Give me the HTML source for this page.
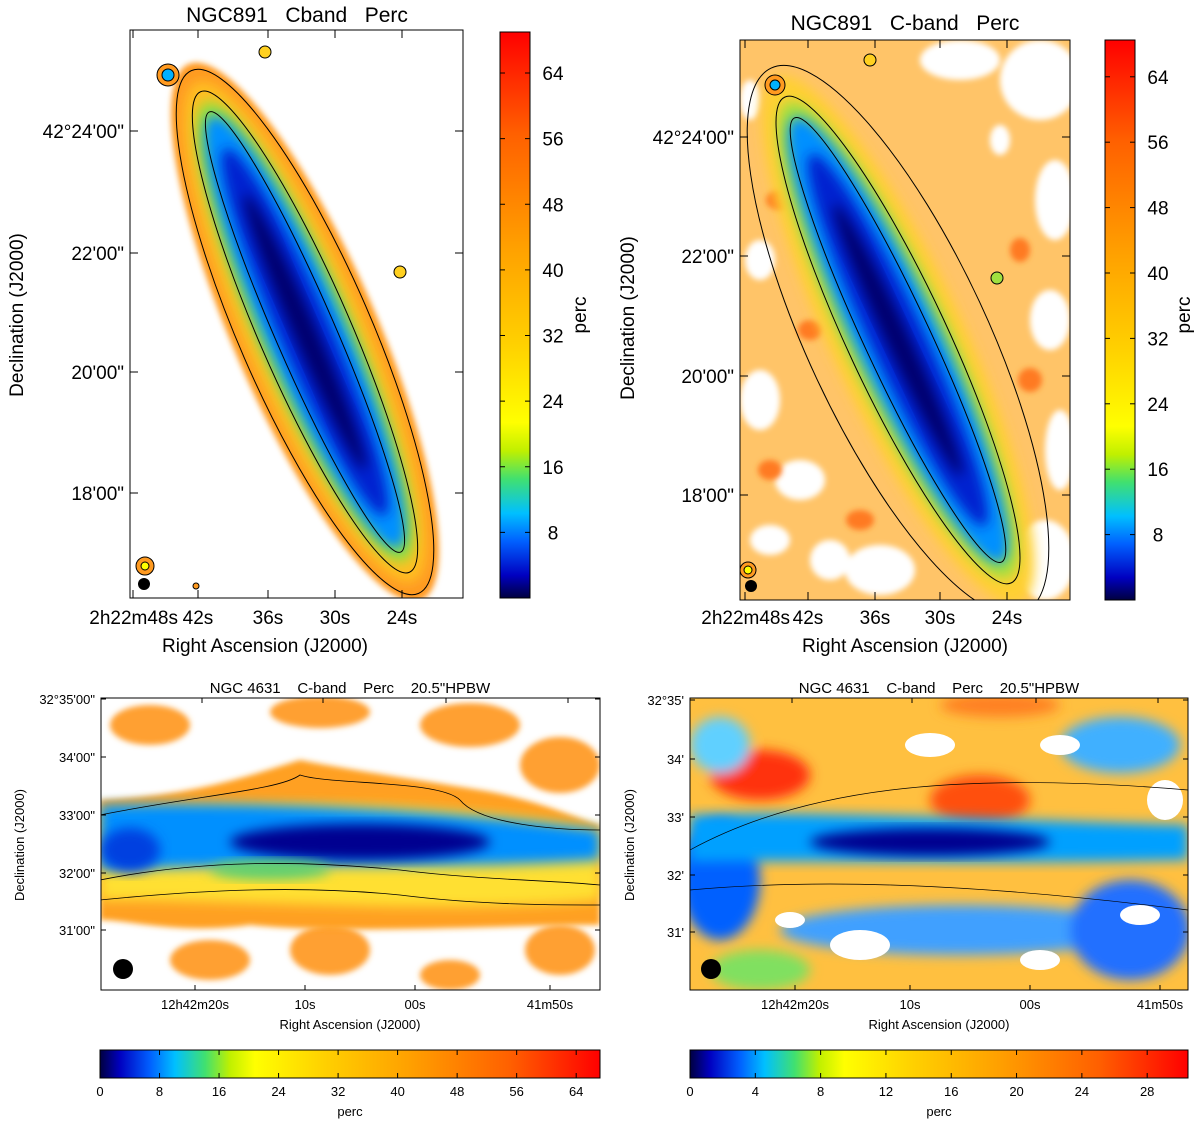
<!DOCTYPE html>
<html><head><meta charset="utf-8"><style>
html,body{margin:0;padding:0;background:#fff;}
svg{display:block;font-family:"Liberation Sans",sans-serif;}
text{white-space:pre;}
</style></head><body>
<svg id="fig" width="1200" height="1128" viewBox="0 0 1200 1128" xmlns="http://www.w3.org/2000/svg">
<defs>
<linearGradient id="jetV" x1="0" y1="1" x2="0" y2="0">
<stop offset="0" stop-color="#000040"/><stop offset="0.04" stop-color="#0000c0"/><stop offset="0.1" stop-color="#0060ff"/><stop offset="0.15" stop-color="#00c0ff"/><stop offset="0.21" stop-color="#40e070"/><stop offset="0.26" stop-color="#c0f000"/><stop offset="0.31" stop-color="#ffff00"/><stop offset="0.45" stop-color="#ffd000"/><stop offset="0.62" stop-color="#ffa000"/><stop offset="0.82" stop-color="#ff6000"/><stop offset="1" stop-color="#ff0000"/>
</linearGradient>
<linearGradient id="jetH" x1="0" y1="0" x2="1" y2="0">
<stop offset="0" stop-color="#000040"/><stop offset="0.04" stop-color="#0000c0"/><stop offset="0.1" stop-color="#0060ff"/><stop offset="0.15" stop-color="#00c0ff"/><stop offset="0.21" stop-color="#40e070"/><stop offset="0.26" stop-color="#c0f000"/><stop offset="0.31" stop-color="#ffff00"/><stop offset="0.45" stop-color="#ffd000"/><stop offset="0.62" stop-color="#ffa000"/><stop offset="0.82" stop-color="#ff6000"/><stop offset="1" stop-color="#ff0000"/>
</linearGradient>
<filter id="bl" x="-20%" y="-20%" width="140%" height="140%"><feGaussianBlur stdDeviation="6"/></filter>
<filter id="bl2" x="-20%" y="-20%" width="140%" height="140%"><feGaussianBlur stdDeviation="3"/></filter>
<clipPath id="c1"><rect x="130" y="30" width="333" height="568"/></clipPath>
<clipPath id="c2"><rect x="740" y="40" width="330" height="560"/></clipPath>
<clipPath id="c3"><rect x="101" y="698" width="499" height="292"/></clipPath>
<clipPath id="c4"><rect x="690" y="698" width="498" height="292"/></clipPath>
</defs>

<g clip-path="url(#c1)">
<g transform="translate(305,332) rotate(-23.5)">
<ellipse rx="72" ry="292" fill="#ff9a20" filter="url(#bl2)"/>
<ellipse rx="60" ry="272" fill="#ffc020" filter="url(#bl)"/>
<ellipse rx="48" ry="250" fill="#90e040" filter="url(#bl)"/>
<ellipse rx="40" ry="235" fill="#0090ff" filter="url(#bl)"/>
<ellipse rx="26" ry="200" fill="#0020d0" filter="url(#bl)"/>
<ellipse rx="12" ry="150" fill="#000070" filter="url(#bl)"/>
<ellipse rx="66" ry="285" fill="none" stroke="#000" stroke-width="1"/>
<ellipse rx="46" ry="262" fill="none" stroke="#000" stroke-width="1"/>
<ellipse rx="30" ry="240" fill="none" stroke="#000" stroke-width="1"/>
</g>
<circle cx="168" cy="75" r="11" fill="#ff9a20" stroke="#000"/><circle cx="168" cy="75" r="6" fill="#00b0ff" stroke="#000"/>
<circle cx="265" cy="52" r="6" fill="#ffd020" stroke="#000"/>
<circle cx="400" cy="272" r="6" fill="#ffd020" stroke="#000"/>
<circle cx="145" cy="566" r="9" fill="#ff9a20" stroke="#000"/><circle cx="145" cy="566" r="4" fill="#ffff00" stroke="#000"/>
<circle cx="144" cy="584" r="6" fill="#000"/>
<circle cx="196" cy="586" r="3" fill="#ff9a20" stroke="#000"/>
</g>

<g clip-path="url(#c2)">
<rect x="740" y="40" width="330" height="560" fill="#ffc468"/>
<g fill="#fff" filter="url(#bl2)">
<ellipse cx="1040" cy="80" rx="40" ry="40"/><ellipse cx="960" cy="60" rx="40" ry="20"/><ellipse cx="1055" cy="200" rx="20" ry="40"/>
<ellipse cx="1050" cy="320" rx="20" ry="30"/><ellipse cx="1060" cy="450" rx="15" ry="40"/><ellipse cx="1045" cy="560" rx="30" ry="40"/>
<ellipse cx="760" cy="400" rx="20" ry="30"/><ellipse cx="800" cy="480" rx="25" ry="20"/><ellipse cx="770" cy="540" rx="20" ry="15"/>
<ellipse cx="880" cy="570" rx="35" ry="25"/><ellipse cx="760" cy="260" rx="15" ry="20"/><ellipse cx="830" cy="560" rx="20" ry="20"/>
<ellipse cx="1000" cy="140" rx="10" ry="15"/><ellipse cx="750" cy="100" rx="10" ry="20"/>
</g>
<g fill="#ff7a20" filter="url(#bl2)">
<ellipse cx="780" cy="200" rx="14" ry="10"/><ellipse cx="810" cy="330" rx="12" ry="10"/><ellipse cx="770" cy="470" rx="12" ry="10"/><ellipse cx="1030" cy="380" rx="12" ry="12"/><ellipse cx="1020" cy="250" rx="10" ry="12"/><ellipse cx="860" cy="520" rx="14" ry="10"/>
</g>
<g transform="translate(898,340) rotate(-25)">
<ellipse rx="66" ry="290" fill="#ffd030" filter="url(#bl)"/>
<ellipse rx="52" ry="262" fill="#a0e040" filter="url(#bl)"/>
<ellipse rx="42" ry="245" fill="#0090ff" filter="url(#bl)"/>
<ellipse rx="27" ry="205" fill="#0020d0" filter="url(#bl)"/>
<ellipse rx="12" ry="150" fill="#000070" filter="url(#bl)"/>
<ellipse rx="90" ry="300" fill="none" stroke="#000" stroke-width="1"/>
<ellipse rx="50" ry="268" fill="none" stroke="#000" stroke-width="1"/>
<ellipse rx="33" ry="245" fill="none" stroke="#000" stroke-width="1"/>
</g>
<circle cx="775" cy="85" r="10" fill="#ff9a20" stroke="#000"/><circle cx="775" cy="85" r="5" fill="#00b0ff" stroke="#000"/>
<circle cx="870" cy="60" r="6" fill="#ffd020" stroke="#000"/>
<circle cx="997" cy="278" r="6" fill="#a0e040" stroke="#000"/>
<circle cx="748" cy="570" r="8" fill="#ff9a20" stroke="#000"/><circle cx="748" cy="570" r="4" fill="#ffff00" stroke="#000"/>
<circle cx="751" cy="586" r="6" fill="#000"/>
</g>

<g clip-path="url(#c3)">
<g fill="#ffa030" filter="url(#bl2)">
<ellipse cx="150" cy="725" rx="40" ry="20"/><ellipse cx="320" cy="712" rx="50" ry="16"/><ellipse cx="470" cy="725" rx="50" ry="22"/><ellipse cx="560" cy="765" rx="40" ry="28"/>
<ellipse cx="210" cy="960" rx="40" ry="20"/><ellipse cx="330" cy="950" rx="40" ry="25"/><ellipse cx="450" cy="975" rx="30" ry="15"/><ellipse cx="560" cy="950" rx="35" ry="25"/>
</g>
<path d="M100,800 C200,795 250,775 300,760 C350,770 420,780 480,790 C540,800 580,820 600,825 L600,925 C500,925 350,935 250,925 C180,935 130,920 100,920 Z" fill="#ffa020" filter="url(#bl2)"/>
<path d="M100,810 C250,800 450,800 600,830 L600,900 C450,915 250,900 100,900 Z" fill="#ffe030" filter="url(#bl)"/>
<path d="M100,805 C250,800 450,810 600,830 L600,860 C450,870 300,862 100,870 Z" fill="#0090ff" filter="url(#bl)"/>
<ellipse cx="130" cy="850" rx="30" ry="22" fill="#0040e0" filter="url(#bl)"/>
<ellipse cx="360" cy="842" rx="130" ry="18" fill="#000090" filter="url(#bl)"/>
<ellipse cx="270" cy="870" rx="60" ry="10" fill="#60d070" filter="url(#bl)"/>
<path d="M100,815 C200,795 280,790 300,775 C330,785 440,780 460,800 C480,825 560,830 600,830" fill="none" stroke="#000" stroke-width="0.8"/>
<path d="M100,880 C200,860 300,860 400,870 C480,880 550,880 600,885" fill="none" stroke="#000" stroke-width="0.8"/>
<path d="M100,900 C200,890 300,885 400,895 C480,905 550,905 600,905" fill="none" stroke="#000" stroke-width="0.8"/>
<circle cx="123" cy="969" r="10" fill="#000"/>
</g>

<g clip-path="url(#c4)">
<rect x="690" y="698" width="498" height="292" fill="#ffc040"/>
<g filter="url(#bl)">
<ellipse cx="760" cy="775" rx="50" ry="25" fill="#ff3010"/>
<ellipse cx="980" cy="800" rx="50" ry="25" fill="#ff5010"/>
<ellipse cx="1000" cy="705" rx="60" ry="12" fill="#ff8020"/>
<ellipse cx="720" cy="745" rx="30" ry="28" fill="#60d0ff"/>
<ellipse cx="1120" cy="745" rx="60" ry="28" fill="#40b0ff"/>
<ellipse cx="720" cy="880" rx="40" ry="60" fill="#0060ff"/>
<ellipse cx="960" cy="930" rx="180" ry="25" fill="#40a0ff"/>
<ellipse cx="1130" cy="930" rx="60" ry="50" fill="#2070ff"/>
<ellipse cx="760" cy="970" rx="50" ry="20" fill="#80e060"/>
</g>
<path d="M690,815 C800,810 1000,820 1188,825 L1188,860 C1000,865 800,860 690,862 Z" fill="#00a0ff" filter="url(#bl)"/>
<ellipse cx="930" cy="842" rx="120" ry="14" fill="#000090" filter="url(#bl)"/>
<g fill="#fff">
<ellipse cx="930" cy="745" rx="25" ry="12"/><ellipse cx="1060" cy="745" rx="20" ry="10"/><ellipse cx="1165" cy="800" rx="18" ry="20"/>
<ellipse cx="860" cy="945" rx="30" ry="15"/><ellipse cx="1040" cy="960" rx="20" ry="10"/><ellipse cx="1140" cy="915" rx="20" ry="10"/><ellipse cx="790" cy="920" rx="15" ry="8"/>
</g>
<path d="M690,850 C800,790 950,770 1188,790" fill="none" stroke="#000" stroke-width="0.7"/>
<path d="M690,890 C800,880 950,880 1188,910" fill="none" stroke="#000" stroke-width="0.7"/>
<circle cx="711" cy="969" r="10" fill="#000"/>
</g>

<rect x="130" y="30" width="333" height="568" fill="none" stroke="#000"/>
<rect x="740" y="40" width="330" height="560" fill="none" stroke="#000"/>
<rect x="101" y="698" width="499" height="292" fill="none" stroke="#000"/>
<rect x="690" y="698" width="498" height="292" fill="none" stroke="#000"/>

<rect x="500" y="32" width="30" height="566" fill="url(#jetV)" stroke="#000"/>
<rect x="1105" y="40" width="30" height="560" fill="url(#jetV)" stroke="#000"/>
<rect x="100" y="1050" width="500" height="28" fill="url(#jetH)" stroke="#000"/>
<rect x="690" y="1050" width="498" height="28" fill="url(#jetH)" stroke="#000"/>

<g id="txt"></g>
</svg>
<script>
const cbTopTicks=[8,16,24,32,40,48,56,64];
const cbBL=[0,8,16,24,32,40,48,56,64];
const cbBR=[0,4,8,12,16,20,24,28];
const p1Y=["42°24'00\"","22'00\"","20'00\"","18'00\""];
const p2Y=["42°24'00\"","22'00\"","20'00\"","18'00\""];
const p1X=["2h22m48s","42s","36s","30s","24s"];
const p3Y=["32°35'00\"","34'00\"","33'00\"","32'00\"","31'00\""];
const p4Y=["32°35'","34'","33'","32'","31'"];
const p34X=["12h42m20s","10s","00s","41m50s"];
const g=document.getElementById('txt');
const NS='http://www.w3.org/2000/svg';
function T(x,y,s,size,anchor,name,rot){
 const t=document.createElementNS(NS,'text');
 t.setAttribute('x',x);t.setAttribute('y',y);t.setAttribute('font-size',size);
 t.setAttribute('text-anchor',anchor||'middle');
 if(rot)t.setAttribute('transform','rotate(-90 '+x+' '+y+')');
 t.textContent=s;
 
 
 g.appendChild(t);return t;}
function L(x1,y1,x2,y2){const l=document.createElementNS(NS,'line');
 l.setAttribute('x1',x1);l.setAttribute('y1',y1);l.setAttribute('x2',x2);l.setAttribute('y2',y2);l.setAttribute('stroke','#000');
 
 
 g.appendChild(l);}
function vbar(x,y0,y1,max,ticks,name){ticks.forEach(v=>{const y=y1-(v/max)*(y1-y0);L(x,y,x+5,y);L(x+30,y,x+25,y);T(x+53,y+7,String(v),19,'middle',name+'-tick');});}
vbar(500,32,598,69,cbTopTicks,'cb1');
vbar(1105,40,600,68.5,cbTopTicks,'cb2');
T(586,315,'perc',19,'middle','colorbar-label',true);
T(1190,315,'perc',19,'middle','colorbar-label',true);
function hbar(x0,x1,y,max,ticks,name){ticks.forEach(v=>{const x=x0+(v/max)*(x1-x0);L(x,y,x,y+5);L(x,y+28,x,y+23);T(x,y+46,String(v),13,'middle',name+'-tick');});}
hbar(100,600,1050,67.2,cbBL,'cb3');
hbar(690,1188,1050,30.5,cbBR,'cb4');
T(350,1116,'perc',13,'middle','colorbar-label');
T(939,1116,'perc',13,'middle','colorbar-label');
// panel 1
const p1Ypos=[131,253,372,493],p1Xpos=[133,198,268,335,402];
p1Y.forEach((s,i)=>{L(130,p1Ypos[i],138,p1Ypos[i]);L(463,p1Ypos[i],455,p1Ypos[i]);T(124,p1Ypos[i]+7,s,19,'end','y-tick');});
p1X.forEach((s,i)=>{L(p1Xpos[i],598,p1Xpos[i],590);L(p1Xpos[i],30,p1Xpos[i],38);T(i==0?178:p1Xpos[i],624,s,19,i==0?'end':'middle','x-tick');});
T(297,22,'NGC891   Cband   Perc',21,'middle','title');
T(265,652,'Right Ascension (J2000)',19,'middle','x-axis-title');
T(23,315,'Declination (J2000)',19,'middle','y-axis-title',true);
// panel 2
const p2Ypos=[137,256,376,495],p2Xpos=[745,808,875,940,1007];
p2Y.forEach((s,i)=>{L(740,p2Ypos[i],748,p2Ypos[i]);L(1070,p2Ypos[i],1062,p2Ypos[i]);T(734,p2Ypos[i]+7,s,19,'end','y-tick');});
p1X.forEach((s,i)=>{L(p2Xpos[i],600,p2Xpos[i],592);L(p2Xpos[i],40,p2Xpos[i],48);T(i==0?790:p2Xpos[i],624,s,19,i==0?'end':'middle','x-tick');});
T(905,30,'NGC891   C-band   Perc',21,'middle','title');
T(905,652,'Right Ascension (J2000)',19,'middle','x-axis-title');
T(634,318,'Declination (J2000)',19,'middle','y-axis-title',true);
// panel 3
const p3Ypos=[699,757,815,873,930],p3Xpos=[195,305,415,550],p3TopX=[202,323,446,568];
p3Y.forEach((s,i)=>{L(101,p3Ypos[i],106,p3Ypos[i]);L(600,p3Ypos[i],595,p3Ypos[i]);T(95,p3Ypos[i]+5,s,13,'end','y-tick');});
p34X.forEach((s,i)=>{L(p3Xpos[i],990,p3Xpos[i],985);L(p3TopX[i],698,p3TopX[i],703);T(p3Xpos[i],1009,s,13,'middle','x-tick');});
T(350,693,'NGC 4631    C-band    Perc    20.5"HPBW',15,'middle','title');
T(350,1029,'Right Ascension (J2000)',13,'middle','x-axis-title');
T(24,845,'Declination (J2000)',13,'middle','y-axis-title',true);
// panel 4
const p4Ypos=[700,759,817,875,932],p4Xpos=[795,910,1030,1160],p4TopX=[792,912,1036,1158];
p4Y.forEach((s,i)=>{L(690,p4Ypos[i],695,p4Ypos[i]);L(1188,p4Ypos[i],1183,p4Ypos[i]);T(684,p4Ypos[i]+5,s,13,'end','y-tick');});
p34X.forEach((s,i)=>{L(p4Xpos[i],990,p4Xpos[i],985);L(p4TopX[i],698,p4TopX[i],703);T(p4Xpos[i],1009,s,13,'middle','x-tick');});
T(939,693,'NGC 4631    C-band    Perc    20.5"HPBW',15,'middle','title');
T(939,1029,'Right Ascension (J2000)',13,'middle','x-axis-title');
T(634,845,'Declination (J2000)',13,'middle','y-axis-title',true);
</script>
</body></html>
